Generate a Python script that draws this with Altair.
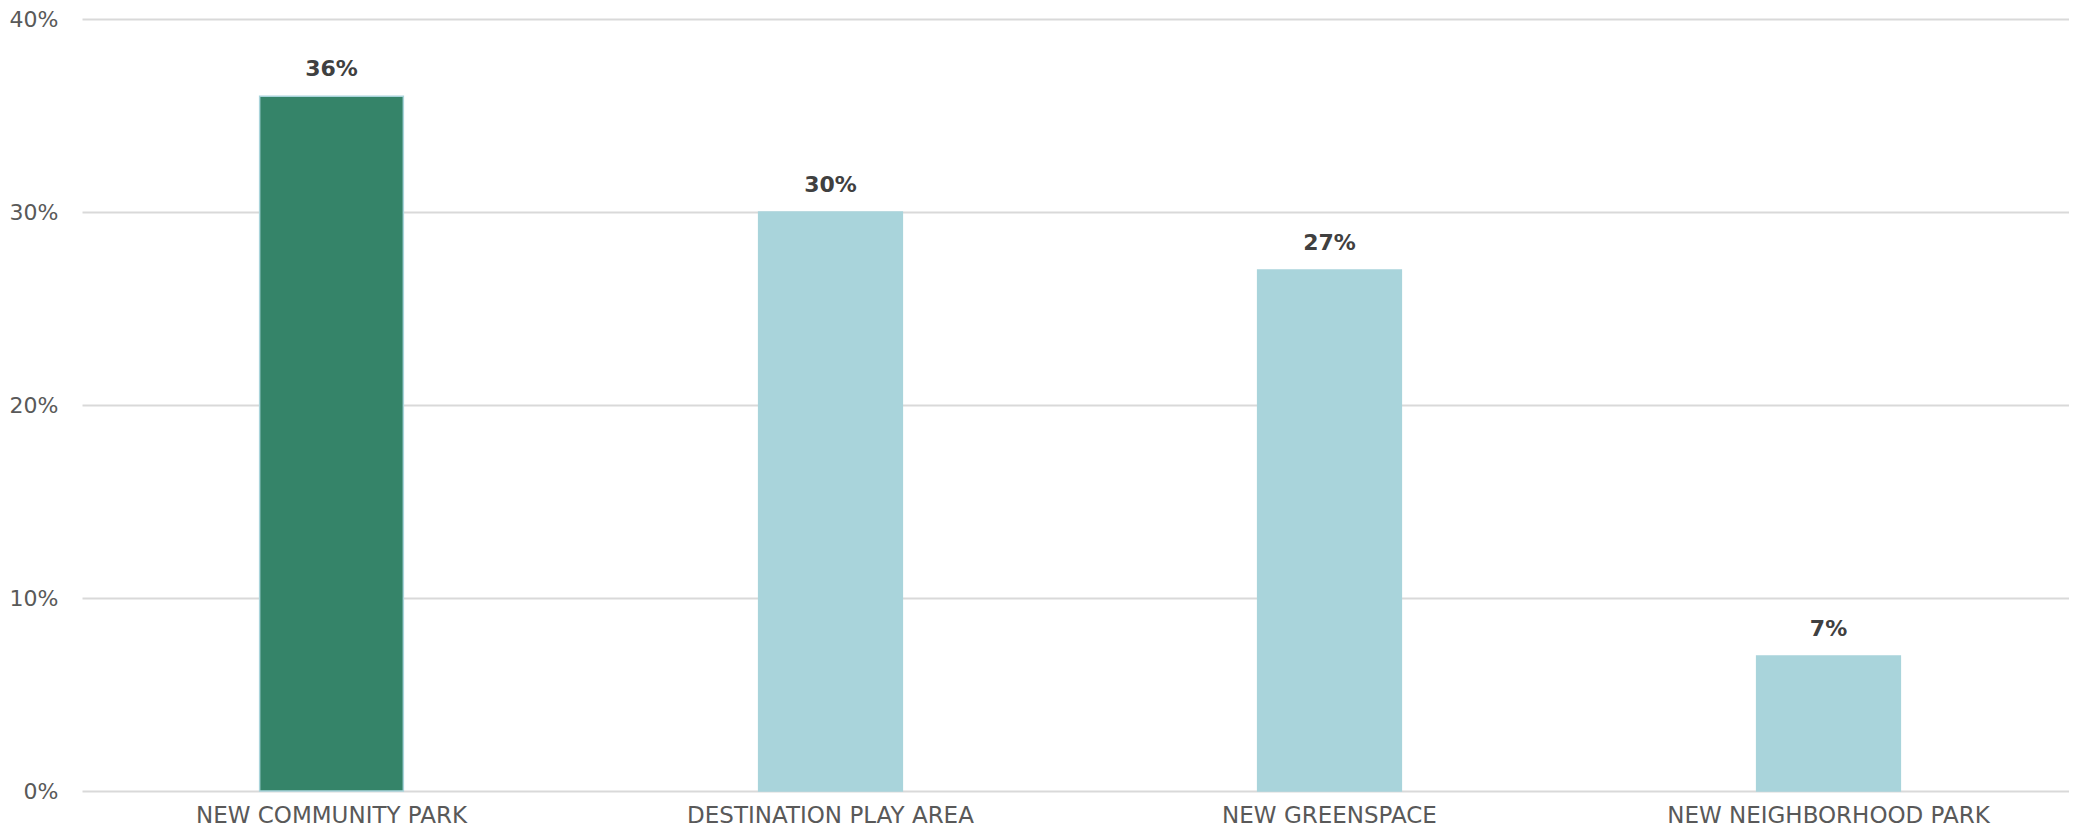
import altair as alt
import pandas as pd

categories = ["NEW COMMUNITY PARK", "DESTINATION PLAY AREA", "NEW GREENSPACE", "NEW NEIGHBORHOOD PARK"]
values = [0.36, 0.30, 0.27, 0.07]
bar_colors = ["#358469", "#A9D4DB", "#A9D4DB", "#A9D4DB"]
labels = ["36%", "30%", "27%", "7%"]
y_ticks = [0.0, 0.1, 0.2, 0.3, 0.4]

df = pd.DataFrame({"category": categories, "value": values, "color": bar_colors, "label": labels})

FONT = "DejaVu Sans"

x = alt.X(
    "category:N",
    sort=categories,
    scale=alt.Scale(range=[0, 1996], paddingInner=0.712, paddingOuter=0.356),
    axis=alt.Axis(title=None, labelAngle=0, domain=False, ticks=False, grid=False,
                  labelFont=FONT, labelFontSize=23, labelColor="#595959",
                  labelPadding=13, labelLimit=600),
)
y = alt.Y(
    "value:Q",
    scale=alt.Scale(domain=[0, 0.4]),
    axis=alt.Axis(format=".0%", values=y_ticks, title=None, domain=False, ticks=False,
                  gridColor="#d9d9d9", gridWidth=2, labelFont=FONT, labelFontSize=22,
                  labelColor="#595959", labelPadding=24),
)

base = alt.Chart(df)
bars = base.mark_bar(stroke="#A9D4DB", strokeWidth=1.5).encode(
    x=x, y=y, color=alt.Color("color:N", scale=None)
)
text = base.mark_text(dy=-15, baseline="bottom", font=FONT, fontWeight="bold",
                      fontSize=22, color="#404040").encode(
    x=alt.X("category:N", sort=categories), y="value:Q", text="label:N"
)

chart = alt.layer(bars, text).properties(
    width=1987, height=772, autosize="none",
    padding={"left": 74, "top": 11, "right": 0, "bottom": 37},
).configure_view(stroke=None)

chart.save("out.html", embed_options={"renderer": "svg", "actions": False})
